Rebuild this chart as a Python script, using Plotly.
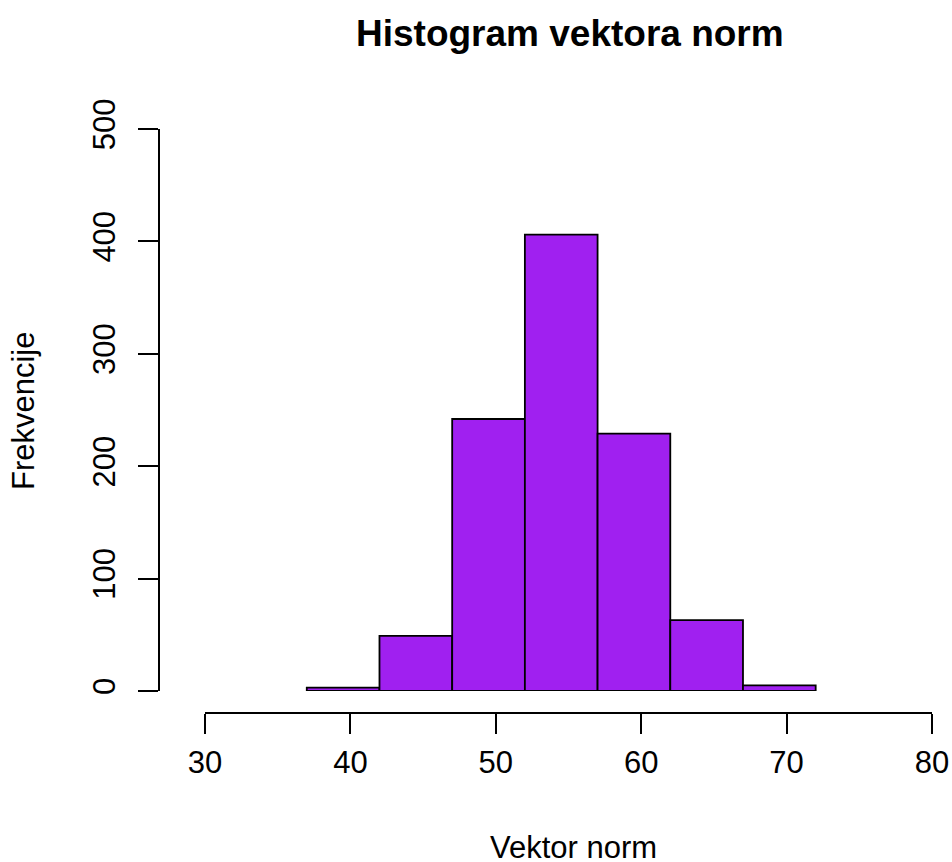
import plotly.graph_objects as go

# Histogram bins (breaks) and counts
breaks = [37, 42, 47, 52, 57, 62, 67, 72]
counts = [3, 49, 242, 406, 229, 63, 5]
x_ticks = [30, 40, 50, 60, 70, 80]
y_ticks = [0, 100, 200, 300, 400, 500]

mids = [(a + b) / 2 for a, b in zip(breaks[:-1], breaks[1:])]
widths = [b - a for a, b in zip(breaks[:-1], breaks[1:])]

font = "Liberation Sans, Arial, Helvetica, sans-serif"

# plot area in pixels: left edge (y axis) 159, right edge 932, top 129, bottom 713
L, R, T, B = 159, 20, 129, 149
PW = 952 - L - R
PH = 862 - T - B

fig = go.Figure()
fig.add_trace(go.Bar(
    x=mids, y=counts, width=widths,
    marker=dict(color="#A020F0", line=dict(color="black", width=1.8)),
    hoverinfo="x+y",
))

fig.update_layout(
    width=952, height=862,
    margin=dict(l=L, r=R, t=T, b=B, autoexpand=False),
    plot_bgcolor="white", paper_bgcolor="white",
    showlegend=False,
    font=dict(family=font, size=31, color="black"),
    xaxis=dict(
        domain=[(205 - L) / PW, 1], range=[30, 80],
        anchor="free", position=0, automargin=False,
        tickmode="array", tickvals=x_ticks,
        showline=True, linecolor="black", linewidth=1.8,
        ticks="outside", ticklen=20, tickwidth=1.8, tickcolor="black",
        showgrid=False, zeroline=False,
        ticklabelstandoff=2, ticklabeloverflow="allow",
    ),
    yaxis=dict(
        domain=[22 / PH, 1], range=[0, 500],
        anchor="free", position=0, automargin=False,
        tickmode="array", tickvals=y_ticks,
        tickangle=-90,
        showline=True, linecolor="black", linewidth=1.8,
        ticks="outside", ticklen=20, tickwidth=1.8, tickcolor="black",
        showgrid=False, zeroline=False,
        ticklabelstandoff=11,
    ),
    annotations=[
        dict(text="<b>Histogram vektora norm</b>", xref="paper", yref="paper",
             x=(570 - L) / PW, y=1 + (T - 34) / PH,
             showarrow=False, xanchor="center", yanchor="middle",
             font=dict(size=37)),
        dict(text="Vektor norm", xref="paper", yref="paper",
             x=(573 - L) / PW, y=-(847 - 713) / PH,
             showarrow=False, xanchor="center", yanchor="middle"),
        dict(text="Frekvencije", xref="paper", yref="paper",
             x=-(L - 23) / PW, y=(713 - 411) / PH,
             showarrow=False, xanchor="center", yanchor="middle",
             textangle=-90),
    ],
)

# drop the default page margin so the figure sits at the window's corner
fig.write_html("out.html", config={"displayModeBar": False},
               post_script="document.body.style.margin='0';document.body.style.overflow='hidden';")
